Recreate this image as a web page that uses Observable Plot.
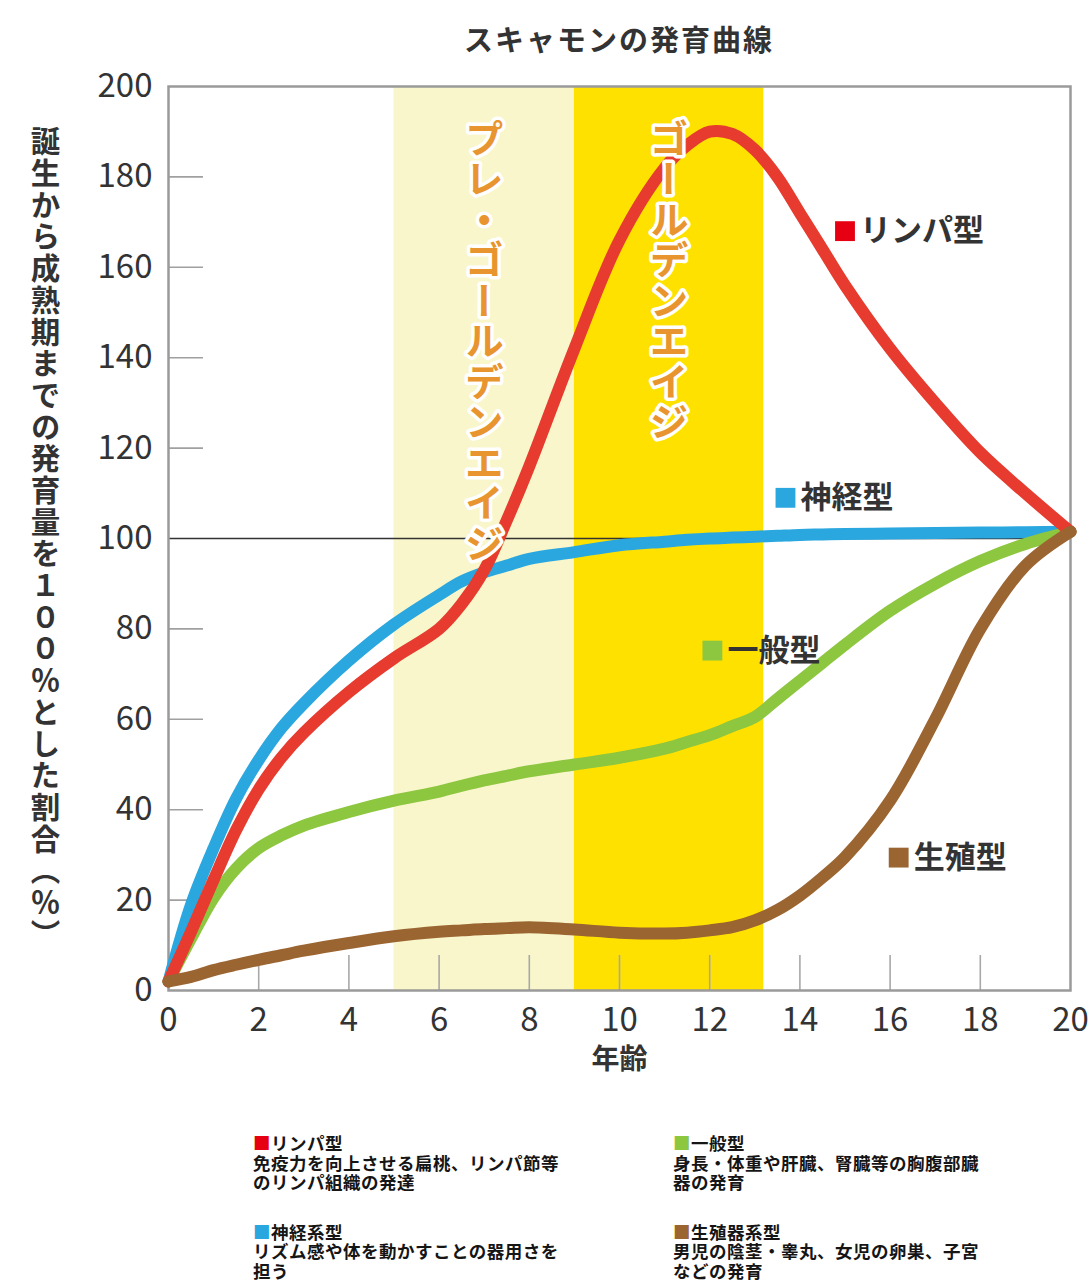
<!DOCTYPE html>
<html>
<head>
<meta charset="utf-8">
<script src="https://cdn.jsdelivr.net/npm/d3@7"></script>
<script src="https://cdn.jsdelivr.net/npm/@observablehq/plot@0.6"></script>
<style>
  html, body { margin: 0; padding: 0; background: #fff; }
  body { position: relative; width: 1091px; height: 1285px; overflow: hidden; font-family: "Noto Sans CJK JP", "Noto Sans", sans-serif; }
  #title { position: absolute; left: 168px; width: 902px; top: 22px; text-align: center; font-size: 29px; line-height: 32px; font-weight: 700; letter-spacing: 2px; color: #333; }
  #chart { position: absolute; left: 0; top: 60px; }
  .note { position: absolute; top: 1133px; font-size: 17.5px; line-height: 19.5px; font-weight: 700; color: #151515; white-space: nowrap; letter-spacing: 0.5px; }
  .note .grp + .grp { margin-top: 30px; }
  text.vt { writing-mode: vertical-rl; letter-spacing: 1.5px; }
  text.vt.ylab { letter-spacing: 2.2px; }
</style>
</head>
<body>
<div id="title"></div>
<div id="chart"></div>
<div class="note" id="noteL" style="left:253px"></div>
<div class="note" id="noteR" style="left:673px"></div>
<script>
// ---- data ----
const titleText = "スキャモンの発育曲線";
const yLabelText = "誕生から成熟期までの発育量を１００％とした割合（％）";
const xLabelText = "年齢";
const xTicks = [0, 2, 4, 6, 8, 10, 12, 14, 16, 18, 20];
const yTicks = [0, 20, 40, 60, 80, 100, 120, 140, 160, 180, 200];

const ages          = [0, 0.5, 1, 1.5, 2, 2.5, 3, 4, 5, 6, 6.5, 7, 7.5, 8, 9, 10, 11, 11.5, 12, 12.5, 13, 13.5, 14, 14.5, 15, 16, 17, 18, 19, 20];
const lymphValues   = [2, 13, 24.5, 35.5, 44.5, 51.5, 57, 66, 73.5, 80, 85.5, 93, 104, 116, 142, 166, 182, 187, 190, 189.5, 186, 180, 172, 164, 156, 142, 130, 119, 110, 101.5];
const neuralValues  = [2, 19, 31.5, 42.5, 51, 58, 63.5, 73, 81, 87.5, 90.5, 92.5, 94, 95.5, 97, 98.5, 99.3, 99.7, 100, 100.2, 100.4, 100.6, 100.8, 100.9, 101, 101.1, 101.2, 101.3, 101.4, 101.5];
const generalValues = [2, 11.5, 20.5, 27, 31.5, 34.3, 36.5, 39.5, 42, 44, 45.3, 46.5, 47.5, 48.5, 50, 51.5, 53.5, 55, 56.5, 58.5, 60.5, 64.5, 68.5, 72.5, 76.5, 84, 90, 95, 98.8, 101.5];
const reproValues   = [2, 3, 4.5, 5.7, 6.8, 7.8, 8.8, 10.5, 12, 13, 13.3, 13.6, 13.8, 14, 13.5, 12.8, 12.6, 12.8, 13.3, 14, 15.5, 17.8, 21, 25, 29.5, 42, 60, 80, 94, 101.5];

const seriesNames  = ["神経型", "一般型", "リンパ型", "生殖型"];
const seriesValues = [neuralValues, generalValues, lymphValues, reproValues];
const seriesColors = ["#2aa7df", "#8dc63f", "#e63b2e", "#9b6532"];
const squareColors = ["#2aa7df", "#8dc63f", "#e60012", "#9b6532"];

const bandStarts = [5, 9];
const bandEnds   = [9, 13.2];
const bandLabels = ["プレ・ゴールデンエイジ", "ゴールデンエイジ"];
const bandColors = ["#f8f6ca", "#ffe100"];

const noteHeads = ["リンパ型", "神経系型", "一般型", "生殖器系型"];
const noteLines = [
  ["免疫力を向上させる扁桃、リンパ節等", "のリンパ組織の発達"],
  ["リズム感や体を動かすことの器用さを", "担う"],
  ["身長・体重や肝臓、腎臓等の胸腹部臓", "器の発育"],
  ["男児の陰茎・睾丸、女児の卵巣、子宮", "などの発育"]
];
const noteColors = ["#e60012", "#2aa7df", "#8dc63f", "#9b6532"];

// ---- tables built from the arrays ----
const rows = [];
seriesNames.forEach((name, i) => ages.forEach((a, j) => rows.push({series: name, age: a, value: seriesValues[i][j]})));
const bands = bandStarts.map((s, i) => ({x1: s, x2: bandEnds[i], label: bandLabels[i], fill: bandColors[i]}));

// annotation anchors for the in-chart series labels (age, value)
const labelAnchors = [
  {series: "リンパ型", x: 15.0, y: 168},
  {series: "神経型", x: 13.68, y: 109},
  {series: "一般型", x: 12.06, y: 75.2},
  {series: "生殖型", x: 16.19, y: 29.4}
];

const W = 1091, H = 1040, mL = 168, mR = 21, mT = 26, mB = 110;
const pxX = (W - mL - mR) / 20, pxY = (H - mT - mB) / 200;
const JP = "Noto Sans CJK JP";

const plot = Plot.plot({
  width: W, height: H,
  marginLeft: mL, marginRight: mR, marginTop: mT, marginBottom: mB,
  style: {fontFamily: JP, fontSize: "33px", color: "#333", background: "#fff", overflow: "visible"},
  x: {domain: [0, 20]},
  y: {domain: [0, 200]},
  color: {domain: seriesNames, range: seriesColors},
  marks: [
    Plot.rect(bands, {x1: "x1", x2: "x2", fill: "fill"}),
    Plot.ruleY(yTicks.filter(v => v > 0 && v < 200 && v !== 100), {x1: 0, x2: 35 / pxX, stroke: "#a0a0a0", strokeWidth: 1.6}),
    Plot.ruleX(xTicks.filter(v => v > 0 && v < 20), {y1: 0, y2: 35 / pxY, stroke: "#a8a8a8", strokeWidth: 1.6}),
    Plot.ruleY([100], {stroke: "#333", strokeWidth: 1.6}),
    Plot.frame({stroke: "#9a9a9a", strokeWidth: 2.5}),
    Plot.line(rows, {x: "age", y: "value", z: "series", stroke: "series", strokeWidth: 12, curve: "catmull-rom", strokeLinecap: "round", strokeLinejoin: "round"}),
    Plot.axisX({ticks: xTicks, tickSize: 0, tickPadding: 17, tickFormat: d => String(d), fontSize: 33}),
    Plot.axisY({ticks: yTicks, tickSize: 0, tickPadding: 16, tickFormat: d => String(d), fontSize: 33}),
    Plot.text([xLabelText], {frameAnchor: "bottom", dy: 70, text: d => d, fontSize: 28, fontWeight: 700, fill: "#333", lineAnchor: "middle"}),
    Plot.dot(labelAnchors, {x: "x", y: "y", symbol: "square", r: 11.2, fill: d => squareColors[seriesNames.indexOf(d.series)], stroke: "none"}),
    Plot.text(labelAnchors, {x: "x", y: "y", text: "series", dx: 15, textAnchor: "start", lineAnchor: "middle", fontSize: 31, fontWeight: 700, fill: "#333"}),
    Plot.text(bands, {x: d => (d.x1 + d.x2) / 2, frameAnchor: "top", dy: 32, text: "label", textAnchor: "start", lineAnchor: "bottom",
      fontSize: 39, fontWeight: 700, fill: "#e8952f", stroke: "#fff", strokeWidth: 7, strokeLinejoin: "round"}),
    Plot.text([yLabelText], {frameAnchor: "left", dx: -123, text: d => d, textAnchor: "middle", lineAnchor: "bottom",
      fontSize: 29.5, fontWeight: 700, fill: "#333"})
  ]
});

const verticalTexts = new Set([...bandLabels, yLabelText]);
d3.select(plot).selectAll("text")
  .filter(function () { return verticalTexts.has(this.textContent); })
  .attr("y", null)
  .attr("writing-mode", "tb-rl")
  .classed("vt", true)
  .classed("ylab", function () { return this.textContent === yLabelText; });

document.getElementById("chart").appendChild(plot);
document.getElementById("title").textContent = titleText;

function fillNotes(el, idx) {
  idx.forEach(i => {
    const g = document.createElement("div");
    g.className = "grp";
    const h = document.createElement("div");
    const sq = document.createElement("span");
    sq.textContent = "■";
    sq.style.color = noteColors[i];
    h.appendChild(sq);
    h.appendChild(document.createTextNode(noteHeads[i]));
    g.appendChild(h);
    noteLines[i].forEach(t => { const d = document.createElement("div"); d.textContent = t; g.appendChild(d); });
    el.appendChild(g);
  });
}
fillNotes(document.getElementById("noteL"), [0, 1]);
fillNotes(document.getElementById("noteR"), [2, 3]);
</script>
</body>
</html>
